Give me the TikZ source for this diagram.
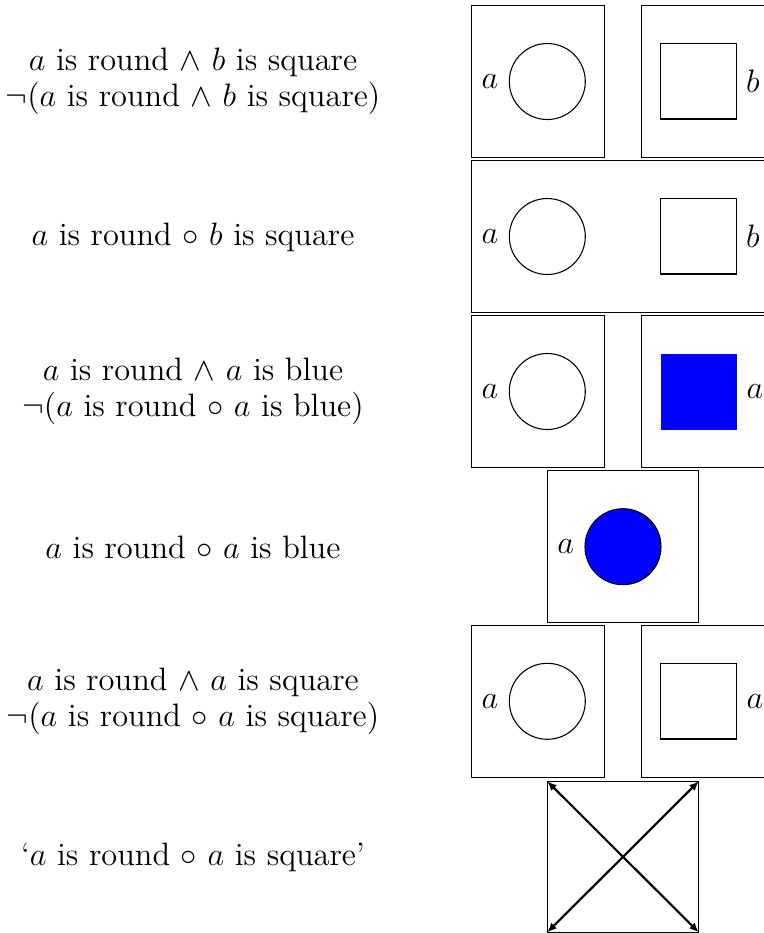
\documentclass[tikz,border=0pt]{standalone}
\usetikzlibrary{arrows.meta}
\begin{document}
\begin{tikzpicture}[x=0.37pt,y=-0.37pt,
  frame/.style={draw,line width=0.4pt},
  shp/.style={draw,line width=0.4pt},
  lbl/.style={align=center,inner sep=0pt,font=\fontsize{12}{13.4}\selectfont},
  var/.style={inner sep=0pt,font=\fontsize{12}{13.4}\selectfont},
  blue/.style={fill={rgb,1:red,0;green,0;blue,1}}]
\useasboundingbox (0,0) rectangle (764,933);
\clip (0,0) rectangle (764,933);
% texts
\node[lbl] (t1) at (193,81) {$a$ is round $\wedge$ $b$ is square\\$\neg$($a$ is round $\wedge$ $b$ is square)};
\node[lbl] (t2) at (193,237) {$a$ is round $\circ$ $b$ is square};
\node[lbl] (t3) at (193,391) {$a$ is round $\wedge$ $a$ is blue\\$\neg$($a$ is round $\circ$ $a$ is blue)};
\node[lbl] (t4) at (193,547) {$a$ is round $\circ$ $a$ is blue};
\node[lbl] (t5) at (193,701) {$a$ is round $\wedge$ $a$ is square\\$\neg$($a$ is round $\circ$ $a$ is square)};
\node[lbl] (t6) at (193,857) {`$a$ is round $\circ$ $a$ is square'};
% row 1
\draw[frame] (471.7,5.7) rectangle (604.3,157.2);
\draw[frame] (641.7,5.7) rectangle (774.3,157.2);
\draw[shp] (547.3,81.5) circle[radius=38];
\node[var] (a1) at (490,81.5) {$a$};
\draw[shp] (660.3,43.3) rectangle (736.3,119);
\node[var] (b1) at (753,81.5) {$b$};
% row 2
\draw[frame] (471.7,160.3) rectangle (774.3,312.2);
\draw[shp] (547.3,236.5) circle[radius=38];
\node[var] (a2) at (490,236.5) {$a$};
\draw[shp] (660.3,198.3) rectangle (736.3,274);
\node[var] (b2) at (753,236.5) {$b$};
% row 3
\draw[frame] (471.7,315.7) rectangle (604.3,467.2);
\draw[frame] (641.7,315.7) rectangle (774.3,467.2);
\draw[shp] (547.3,391.5) circle[radius=38];
\node[var] (a3) at (490,391.5) {$a$};
\fill[blue] (661,354) rectangle (737,430);
\node[var] (a3r) at (755,391.5) {$a$};
% row 4
\draw[frame] (547.3,470.7) rectangle (698.7,622.3);
\draw[shp,blue] (623,546.7) circle[radius=38];
\node[var] (a4) at (565.7,546.7) {$a$};
% row 5
\draw[frame] (471.7,625.7) rectangle (604.3,777.2);
\draw[frame] (641.7,625.7) rectangle (774.3,777.2);
\draw[shp] (547.3,701.3) circle[radius=38];
\node[var] (a5) at (490,701.3) {$a$};
\draw[shp] (660.3,663.3) rectangle (736.3,739);
\node[var] (a5r) at (755,701.3) {$a$};
% row 6
\draw[frame] (547.3,781.3) rectangle (698.7,932.3);
\coordinate (tl) at (547.3,781.3);
\coordinate (tr) at (698.7,781.3);
\coordinate (bl) at (547.3,932.3);
\coordinate (br) at (698.7,932.3);
\draw[line width=0.8pt,{Latex[length=3.5pt,width=3pt]}-{Latex[length=3.5pt,width=3pt]}] (tl) -- (br);
\draw[line width=0.8pt,{Latex[length=3.5pt,width=3pt]}-{Latex[length=3.5pt,width=3pt]}] (bl) -- (tr);
\end{tikzpicture}
\end{document}
